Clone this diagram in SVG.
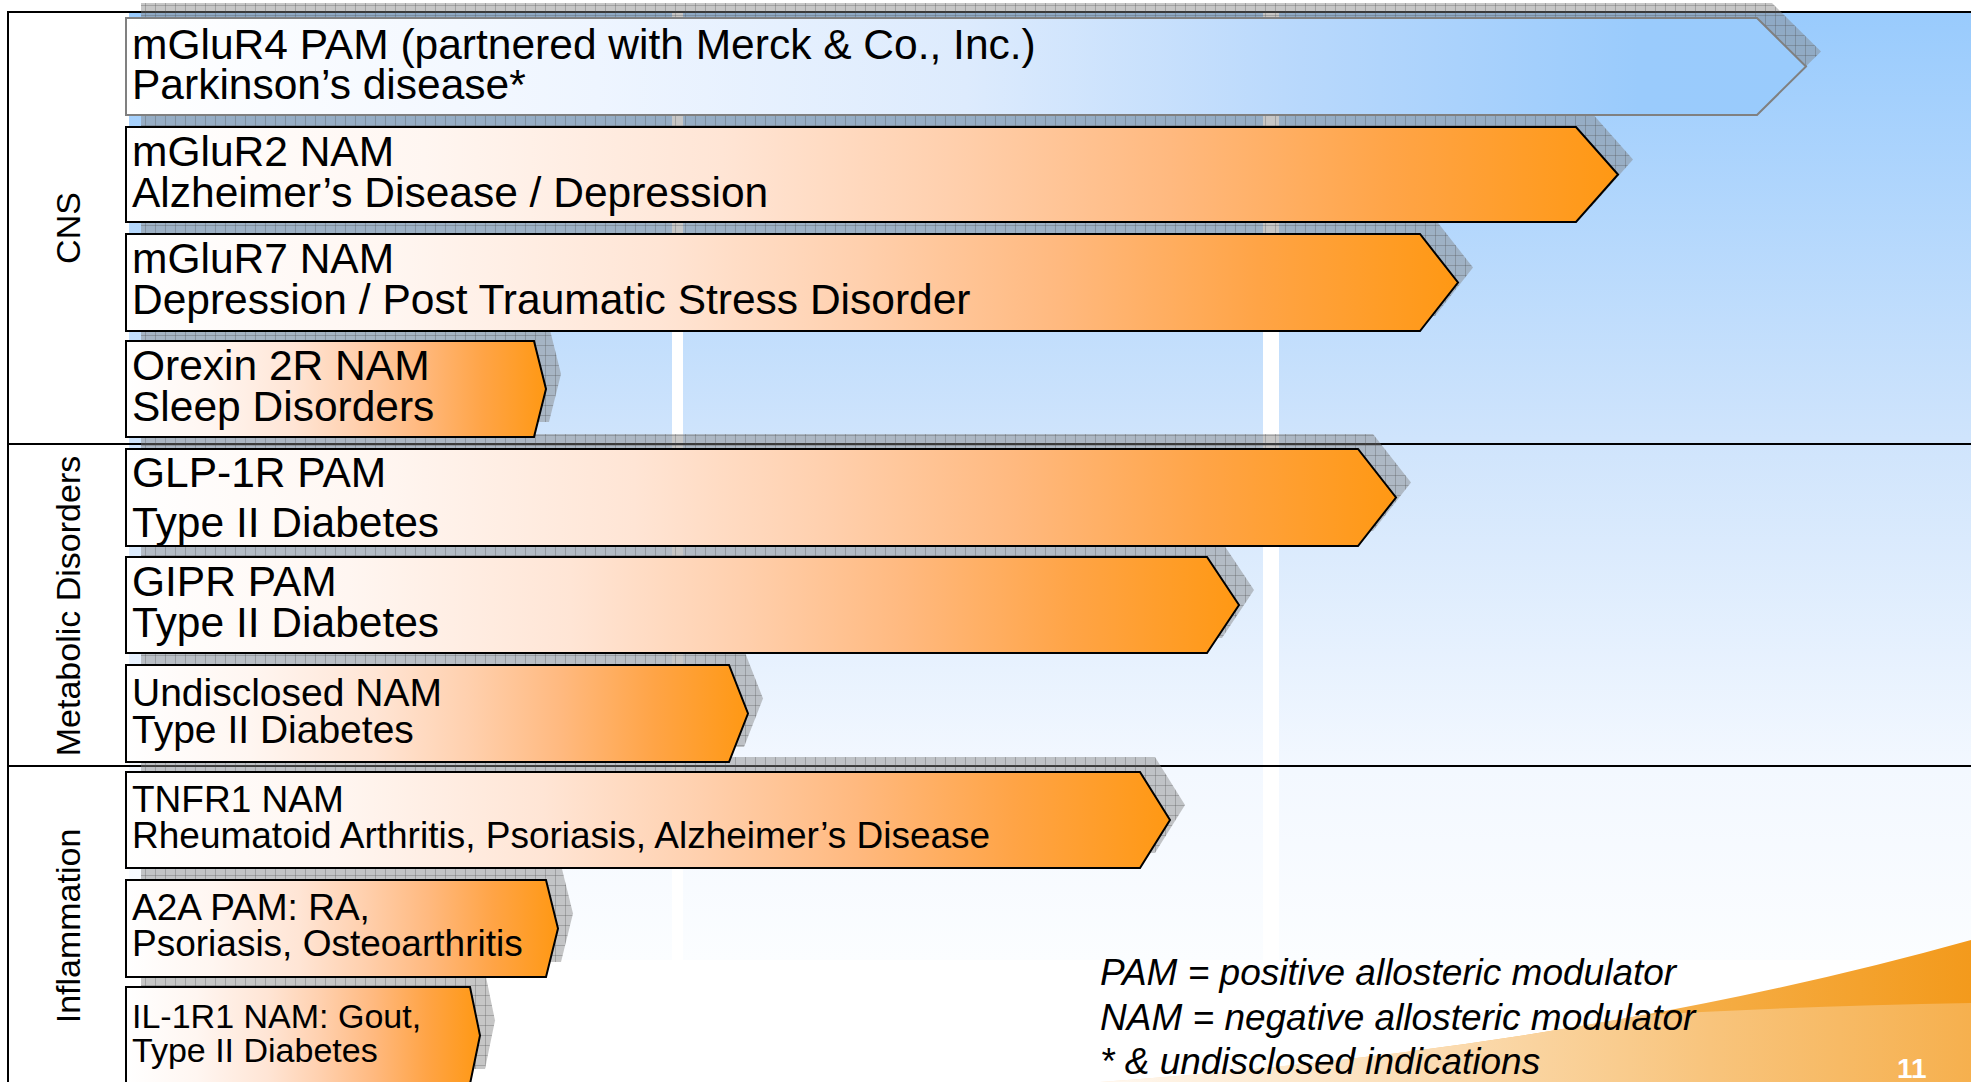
<svg xmlns="http://www.w3.org/2000/svg" width="1971" height="1082" viewBox="0 0 1971 1082">
<defs>
  <linearGradient id="bgGrad" gradientUnits="userSpaceOnUse" x1="0" y1="12" x2="0" y2="960">
    <stop offset="0" stop-color="#99CBFD"/>
    <stop offset="0.45" stop-color="#CFE4FC"/>
    <stop offset="0.8" stop-color="#F3F8FF"/>
    <stop offset="1" stop-color="#FBFDFF"/>
  </linearGradient>
  <linearGradient id="gOrange" x1="0" y1="0" x2="1" y2="0">
    <stop offset="0" stop-color="#FFFFFF"/>
    <stop offset="0.2" stop-color="#FFF6F1"/>
    <stop offset="0.4" stop-color="#FFE5D5"/>
    <stop offset="0.55" stop-color="#FFD0AE"/>
    <stop offset="0.7" stop-color="#FFB97F"/>
    <stop offset="0.85" stop-color="#FFA446"/>
    <stop offset="1" stop-color="#FF9813"/>
  </linearGradient>
  <linearGradient id="gBlue" x1="0" y1="0" x2="1" y2="0">
    <stop offset="0" stop-color="#FFFFFF"/>
    <stop offset="0.28" stop-color="#EEF5FF"/>
    <stop offset="0.5" stop-color="#DDEBFD"/>
    <stop offset="0.7" stop-color="#B8D8FC"/>
    <stop offset="0.9" stop-color="#9ACBFC"/>
    <stop offset="1" stop-color="#99CBFC"/>
  </linearGradient>
  <pattern id="shadowPat" patternUnits="userSpaceOnUse" width="10" height="10">
    <rect width="10" height="10" fill="#808080" fill-opacity="0.45"/>
    <path d="M0 0.5H10M0.5 0V10" stroke="#505050" stroke-opacity="0.3" stroke-width="1" fill="none"/>
  </pattern>
  <linearGradient id="swooshTop" gradientUnits="userSpaceOnUse" x1="1100" y1="0" x2="1971" y2="0">
    <stop offset="0" stop-color="#FDEBD6"/>
    <stop offset="0.6" stop-color="#F6B352"/>
    <stop offset="1" stop-color="#F39A1C"/>
  </linearGradient>
  <linearGradient id="swooshLow" gradientUnits="userSpaceOnUse" x1="1100" y1="0" x2="1971" y2="0">
    <stop offset="0" stop-color="#FFF8F0"/>
    <stop offset="0.4" stop-color="#FBDBB0"/>
    <stop offset="0.7" stop-color="#F8C47C"/>
    <stop offset="1" stop-color="#F6B04E"/>
  </linearGradient>
</defs>
<style>
  .t { font-family: "Liberation Sans", Arial, sans-serif; fill: #000; }
  .f42 { font-size: 42.5px; }
  .f39 { font-size: 39px; }
  .f37 { font-size: 37px; }
  .f34 { font-size: 34px; }
  .cat { font-family: "Liberation Sans", Arial, sans-serif; font-size: 34px; fill: #000; text-anchor: middle; }
  .legend { font-family: "Liberation Sans", Arial, sans-serif; font-size: 37px; font-style: italic; fill: #000; }
  .arrow { fill: url(#gOrange); stroke: #000; stroke-width: 2; stroke-linejoin: miter; }
  .arrowBlue { fill: url(#gBlue); stroke: #808080; stroke-width: 2; }
  .shadow { fill: url(#shadowPat); }
  .rule { stroke: #000; stroke-width: 2; fill: none; }
  .col { fill: url(#bgGrad); }
</style>

<rect x="0" y="0" width="1971" height="1082" fill="#FFFFFF"/>

<g id="background">
  <rect class="col" x="129" y="11" width="543" height="949"/>
  <rect class="col" x="683" y="11" width="580" height="949"/>
  <rect class="col" x="1279" y="11" width="692" height="949"/>
</g>

<g id="swoosh">
  <path d="M1100,1082 Q1585,1048 1971,940 L1971,1082 Z" fill="url(#swooshTop)"/>
  <path d="M1100,1082 Q1388.6,1061.8 1642,1015.3 Q1800,1006 1971,1003 L1971,1082 Z" fill="url(#swooshLow)"/>
</g>

<g id="table-lines">
  <line class="rule" x1="8" y1="12" x2="8" y2="1082"/>
  <line class="rule" x1="7" y1="12" x2="1971" y2="12"/>
  <line class="rule" x1="7" y1="444" x2="1971" y2="444"/>
  <line class="rule" x1="7" y1="766" x2="1971" y2="766"/>
</g>

<g id="shadows" transform="translate(15,-15)">
  <polygon class="shadow" points="126,18 1757,18 1806,66.5 1757,115 126,115"/>
  <polygon class="shadow" points="126,127 1576,127 1618,174.5 1576,222 126,222"/>
  <polygon class="shadow" points="126,234 1420,234 1458,282.5 1420,331 126,331"/>
  <polygon class="shadow" points="126,341 534,341 546,389 534,437 126,437"/>
  <polygon class="shadow" points="126,449 1358,449 1396,497.5 1358,546 126,546"/>
  <polygon class="shadow" points="126,557 1207,557 1239,605 1207,653 126,653"/>
  <polygon class="shadow" points="126,665 729,665 748,713.5 729,762 126,762"/>
  <polygon class="shadow" points="126,772 1140,772 1170,820 1140,868 126,868"/>
  <polygon class="shadow" points="126,880 546,880 558,928.5 546,977 126,977"/>
  <polygon class="shadow" points="126,987 470,987 480,1035.5 470,1084 126,1084"/>
</g>

<g id="node-mglur4">
  <polygon class="arrowBlue" points="126,18 1757,18 1806,66.5 1757,115 126,115"/>
  <text class="t f42"><tspan x="132" y="59">mGluR4 PAM (partnered with Merck &amp; Co., Inc.)</tspan><tspan x="132" y="99">Parkinson’s disease*</tspan></text>
</g>
<g id="node-mglur2">
  <polygon class="arrow" points="126,127 1576,127 1618,174.5 1576,222 126,222"/>
  <text class="t f42"><tspan x="132" y="166">mGluR2 NAM</tspan><tspan x="132" y="207">Alzheimer’s Disease / Depression</tspan></text>
</g>
<g id="node-mglur7">
  <polygon class="arrow" points="126,234 1420,234 1458,282.5 1420,331 126,331"/>
  <text class="t f42"><tspan x="132" y="273">mGluR7 NAM</tspan><tspan x="132" y="314">Depression / Post Traumatic Stress Disorder</tspan></text>
</g>
<g id="node-orexin">
  <polygon class="arrow" points="126,341 534,341 546,389 534,437 126,437"/>
  <text class="t f42"><tspan x="132" y="380">Orexin 2R NAM</tspan><tspan x="132" y="421">Sleep Disorders</tspan></text>
</g>
<g id="node-glp1r">
  <polygon class="arrow" points="126,449 1358,449 1396,497.5 1358,546 126,546"/>
  <text class="t f42"><tspan x="132" y="487">GLP-1R PAM</tspan><tspan x="132" y="537">Type II Diabetes</tspan></text>
</g>
<g id="node-gipr">
  <polygon class="arrow" points="126,557 1207,557 1239,605 1207,653 126,653"/>
  <text class="t f42"><tspan x="132" y="596">GIPR PAM</tspan><tspan x="132" y="637">Type II Diabetes</tspan></text>
</g>
<g id="node-undisclosed">
  <polygon class="arrow" points="126,665 729,665 748,713.5 729,762 126,762"/>
  <text class="t f39"><tspan x="132" y="706">Undisclosed NAM</tspan><tspan x="132" y="743">Type II Diabetes</tspan></text>
</g>
<g id="node-tnfr1">
  <polygon class="arrow" points="126,772 1140,772 1170,820 1140,868 126,868"/>
  <text class="t f37"><tspan x="132" y="812">TNFR1 NAM</tspan><tspan x="132" y="848">Rheumatoid Arthritis, Psoriasis, Alzheimer’s Disease</tspan></text>
</g>
<g id="node-a2a">
  <polygon class="arrow" points="126,880 546,880 558,928.5 546,977 126,977"/>
  <text class="t f37"><tspan x="132" y="920">A2A PAM: RA,</tspan><tspan x="132" y="956">Psoriasis, Osteoarthritis</tspan></text>
</g>
<g id="node-il1r1">
  <polygon class="arrow" points="126,987 470,987 480,1035.5 470,1084 126,1084"/>
  <text class="t f34"><tspan x="132" y="1028">IL-1R1 NAM: Gout,</tspan><tspan x="132" y="1062">Type II Diabetes</tspan></text>
</g>

<g id="categories">
  <text class="cat" transform="translate(80,228) rotate(-90)">CNS</text>
  <text class="cat" transform="translate(80,606) rotate(-90)">Metabolic Disorders</text>
  <text class="cat" transform="translate(80,926) rotate(-90)">Inflammation</text>
</g>

<g id="legend">
  <text class="legend"><tspan x="1100" y="985">PAM = positive allosteric modulator</tspan><tspan x="1100" y="1030">NAM = negative allosteric modulator</tspan><tspan x="1100" y="1074">* &amp; undisclosed indications</tspan></text>
</g>

<text id="page-number" x="1897" y="1078" font-family="Liberation Sans, Arial, sans-serif" font-size="28" font-weight="bold" fill="#FFFFFF">11</text>
</svg>
